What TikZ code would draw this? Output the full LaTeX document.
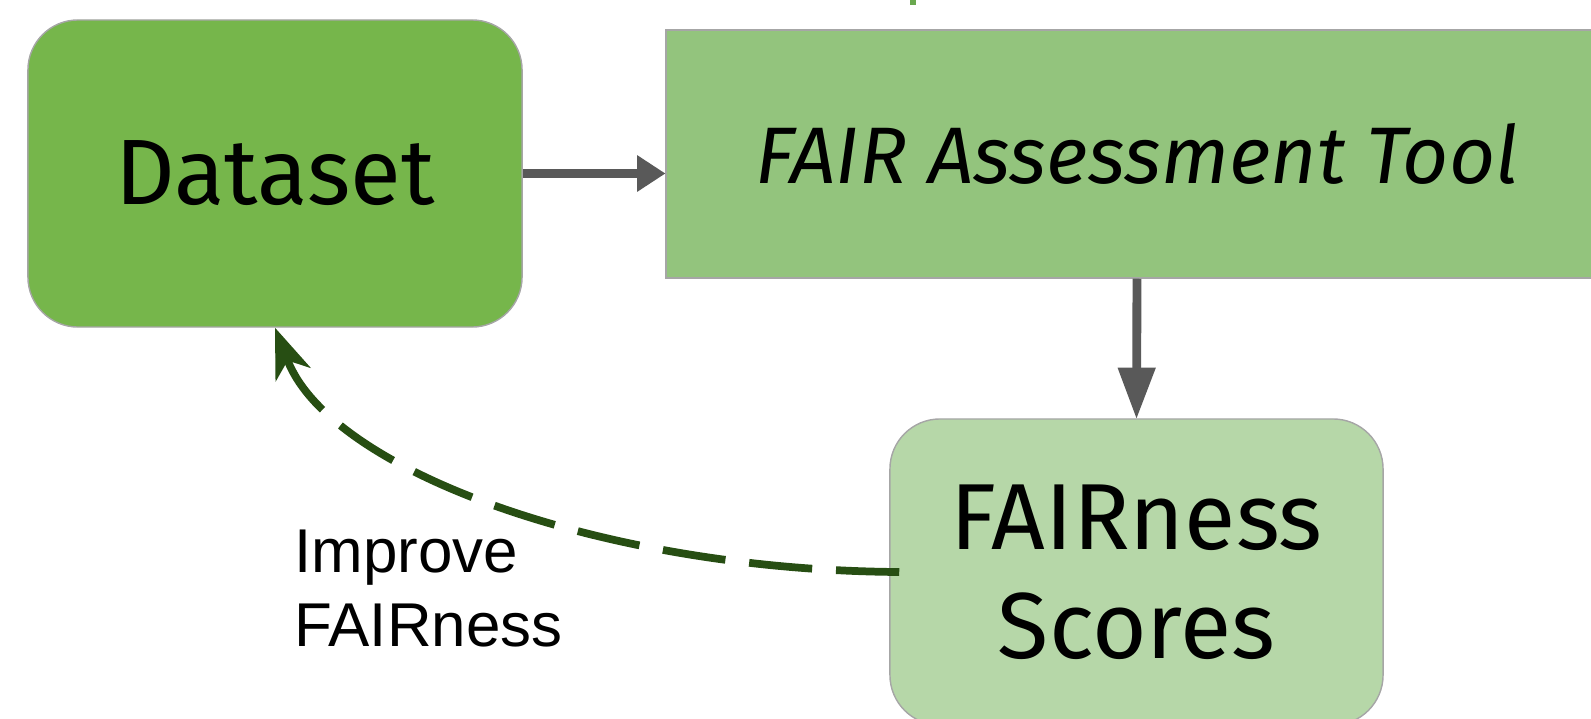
\documentclass[tikz,border=0pt]{standalone}
\usepackage{fontspec}
\setmainfont{Fira Sans}
\newfontfamily\labelfont{Liberation Sans}
\usetikzlibrary{arrows.meta}

\definecolor{datagreen}{HTML}{76B64B}
\definecolor{toolgreen}{HTML}{93C47D}
\definecolor{scoregreen}{HTML}{B6D7A8}
\definecolor{loopgreen}{HTML}{274E13}
\definecolor{topgreen}{HTML}{6AA84F}
\definecolor{arrgray}{HTML}{595959}
\definecolor{edgegray}{HTML}{A6A6A6}

\begin{document}
\begin{tikzpicture}[x=0.025cm, y=-0.025cm,
	box/.style={rectangle, draw=edgegray, line width=1pt},
	arr/.style={draw=arrgray, line width=6.3pt}]
	\clip (0,0) rectangle (1591,718);
	\useasboundingbox (0,0) rectangle (1591,718);

	\node at (275,173.5) [box, fill=datagreen, rounded corners=1.25cm,
	  minimum width=12.35cm, minimum height=7.675cm,
	  font=\fontsize{66}{80}\selectfont] (data) {Dataset};
	\node at (1137,154) [box, fill=toolgreen,
	  minimum width=23.55cm, minimum height=6.2cm,
	  font=\fontsize{57}{70}\selectfont\itshape] (tool) {FAIR Assessment Tool};
	\node at (1136.5,572) [box, fill=scoregreen, rounded corners=1.25cm,
	  minimum width=12.325cm, minimum height=7.65cm, align=center,
	  font=\fontsize{66.7}{77.5}\selectfont] (scores) {FAIRness\\Scores};
	\node at (294,646) [anchor=base west, align=left, inner sep=0pt,
	  font=\labelfont\fontsize{44}{52.6}\selectfont] (improve) {Improve\\FAIRness};

	\draw [arr, -{Triangle[length=20pt, width=26pt, line width=1pt]}]
	  (data.east) -- (data.east -| tool.west);
	\draw [arr, -{Triangle[length=36pt, width=27pt, line width=1pt]}]
	  (tool.south) -- (scores.north);

	\draw [loopgreen, line width=5.5pt, dash pattern=on 45pt off 17pt,
	  -{Stealth[length=36pt, width=27pt, inset=11pt, line width=1pt, fill=loopgreen]}]
	  ([xshift=0.25cm]scores.west) .. controls (600,570) and (330,470) .. (data.south);

	\draw [topgreen, line width=4.5pt] (913,-20) -- (913,5);
\end{tikzpicture}
\end{document}
